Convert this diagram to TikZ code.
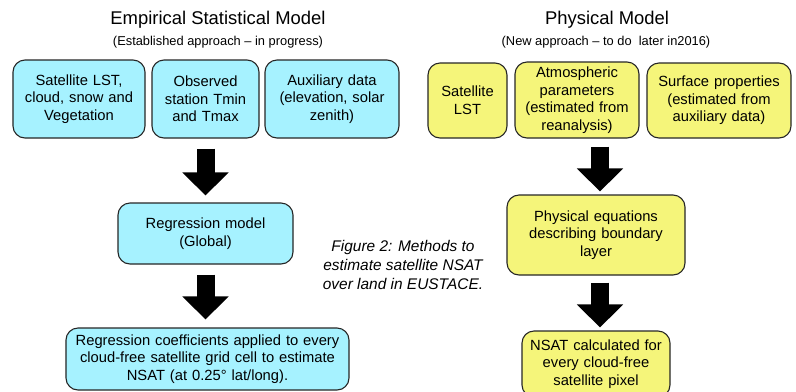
\documentclass[tikz,border=0pt]{standalone}
\usepackage{fontspec}
\setmainfont{Liberation Sans}
\usetikzlibrary{arrows.meta}
\definecolor{statfill}{RGB}{166,242,255}
\definecolor{physfill}{RGB}{245,245,122}
\tikzset{
  model box/.style={
    draw=black!85, line width=1.1bp, rounded corners=12bp,
    align=center, inner sep=3bp, font=\fontsize{14.8}{17.7}\selectfont
  },
  stat box/.style={model box, fill=statfill},
  phys box/.style={model box, fill=physfill},
  flow/.style={draw=black, line width=18bp, -{Triangle[width=45bp,length=23bp]}},
  title/.style={font=\fontsize{18.5}{22}\selectfont},
  subtitle/.style={font=\fontsize{12.9}{15}\selectfont},
  caption/.style={align=center, font=\fontsize{15.5}{19}\selectfont\itshape},
}

\begin{document}
\begin{tikzpicture}[x=1bp, y=-1bp]
  \useasboundingbox (0,0) rectangle (796,391);

  % empirical statistical model
  \node[title] (stattitle) at (218,20) {Empirical Statistical Model};
  \node[subtitle] (statsub) at (218,42) {(Established approach -- in progress)};
  \node[stat box, text width=126bp, minimum height=78bp] (satlst) at (79,99)
    {Satellite LST,\\cloud, snow and\\Vegetation};
  \node[stat box, text width=101bp, minimum height=78bp] (station) at (205.5,99)
    {Observed\\station Tmin\\and Tmax};
  \node[stat box, text width=128bp, minimum height=78bp] (auxdata) at (332,99)
    {Auxiliary data\\(elevation, solar\\zenith)};
  \node[stat box, text width=169bp, minimum height=61bp] (regress) at (205.5,233.5)
    {Regression model\\(Global)};
  \node[stat box, text width=277bp, minimum height=62bp] (coeffs) at (207.5,359)
    {Regression coefficients applied to every\\cloud-free satellite grid cell to estimate\\NSAT (at 0.25° lat/long).};

  \draw[flow, shorten <=10bp, shorten >=7bp] (station.south) -- (regress.north);
  \draw[flow, shorten <=10bp, shorten >=8bp] (regress.south) -- (regress.south |- coeffs.north);

  % physical model
  \node[title] (phystitle) at (607,20) {Physical Model};
  \node[subtitle] (physsub) at (606,42) {(New approach -- to do~ later in2016)};
  \node[phys box, text width=73bp, minimum height=75bp] (physlst) at (467.5,100.5)
    {Satellite\\LST};
  \node[phys box, text width=118bp, minimum height=76bp] (atmos) at (577,100)
    {Atmospheric\\parameters\\(estimated from\\reanalysis)};
  \node[phys box, text width=138bp, minimum height=75bp] (surface) at (719,100.5)
    {Surface properties\\(estimated from\\auxiliary data)};
  \node[phys box, text width=172bp, minimum height=80bp] (equations) at (596,235)
    {Physical equations\\describing boundary\\layer};
  \node[phys box, text width=142bp, minimum height=66bp] (nsat) at (596,364)
    {NSAT calculated for\\every cloud-free\\satellite pixel};

  \coordinate (physin) at ([xshift=4bp]equations.north);
  \draw[flow, shorten <=8bp, shorten >=3bp] (physin |- atmos.south) -- (physin);
  \draw[flow, shorten <=7bp, shorten >=3bp] ([xshift=4bp]equations.south) -- ([xshift=4bp]nsat.north);

  \node[caption] (figcaption) at (403,265)
    {Figure 2: Methods to\\estimate satellite NSAT\\over land in EUSTACE.};
\end{tikzpicture}
\end{document}
